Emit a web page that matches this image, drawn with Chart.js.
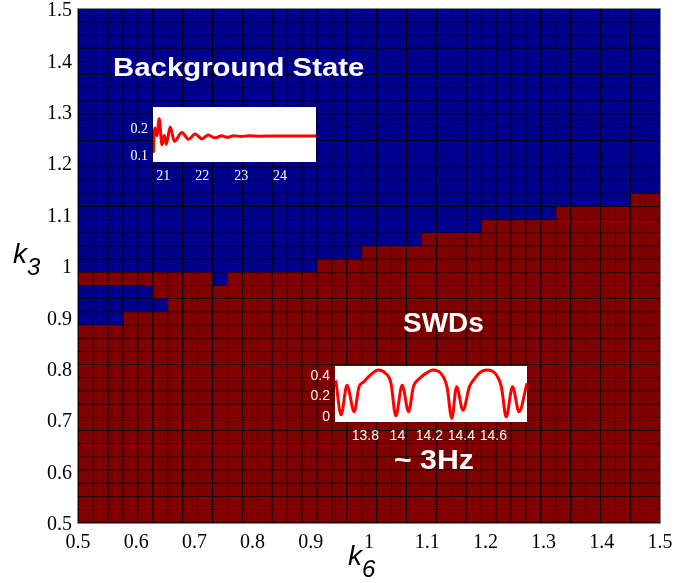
<!DOCTYPE html>
<html>
<head>
<meta charset="utf-8">
<script src="https://cdn.jsdelivr.net/npm/chart.js@4.4.1/dist/chart.umd.min.js"></script>
<style>
  html, body { margin: 0; padding: 0; background: #ffffff; }
  #wrap { position: relative; width: 675px; height: 583px; overflow: hidden; }
  canvas { position: absolute; }
  .ann { position: absolute; color: #ffffff; font-family: 'Liberation Sans', Arial, sans-serif; font-weight: bold; line-height: 1; white-space: nowrap; transform-origin: 0 0; }
  .ttl { position: absolute; color: #000000; font-family: 'Liberation Sans', Arial, sans-serif; font-style: italic; line-height: 1; white-space: nowrap; }
  .ttl span { position: relative; }
</style>
</head>
<body>
<div id="wrap">
  <canvas id="main" width="675" height="583" style="left:0;top:0;width:675px;height:583px"></canvas>
  <canvas id="inset1" width="230" height="95" style="left:100px;top:95px;width:230px;height:95px"></canvas>
  <canvas id="inset2" width="255" height="95" style="left:285px;top:355px;width:255px;height:95px"></canvas>
  <div class="ann" style="left:113px;top:54px;font-size:26px;transform:scaleX(1.13)">Background State</div>
  <div class="ann" style="left:403px;top:309px;font-size:28px">SWDs</div>
  <div class="ann" style="left:394px;top:446px;font-size:28px;transform:scaleX(1.08)">~ 3Hz</div>
  <div class="ttl" style="left:13px;top:240px;font-size:28px">k<span style="font-size:24px;top:12px">3</span></div>
  <div class="ttl" style="left:348px;top:542px;font-size:28px">k<span style="font-size:24px;top:12px">6</span></div>
</div>
<script>
// ---------------- data ----------------
// parameter grid (40 grid points -> 39 x 39 pcolor cells)
const k6Grid = Array.from({ length: 40 }, (_, i) => 0.5 + i / 39);
const k3Grid = Array.from({ length: 40 }, (_, i) => 0.5 + i / 39);
// number of SWD (red) cells counted from the bottom in each k6 column
const swdRowsPerColumn = [19, 19, 19, 19, 19, 19, 19, 19, 19, 18, 19, 19, 19, 19, 19, 19,
  20, 20, 20, 21, 21, 21, 21, 22, 22, 22, 22, 23, 23, 23, 23, 23, 24, 24, 24, 24, 24, 25, 25];
// background-state pocket inside the SWD region: row index and number of columns from the left
const pocketRows = [15, 16, 17];
const pocketCols = [3, 6, 5];
// axis ticks
const mainTicks = [0.5, 0.6, 0.7, 0.8, 0.9, 1.0, 1.1, 1.2, 1.3, 1.4, 1.5];
const mainTickLabels = ['0.5', '0.6', '0.7', '0.8', '0.9', '1', '1.1', '1.2', '1.3', '1.4', '1.5'];

// inset 1: background state time course
const bgTime = [20.75, 20.77, 20.79, 20.84, 20.90, 20.97, 21.03, 21.08, 21.18, 21.29, 21.48, 21.65,
  21.82, 21.99, 22.16, 22.33, 22.50, 22.65, 22.80, 23.00, 23.20, 23.50, 24.00, 24.50, 24.92];
const bgValue = [0.114, 0.19, 0.207, 0.178, 0.241, 0.144, 0.18, 0.146, 0.21, 0.157, 0.19, 0.165,
  0.184, 0.167, 0.181, 0.17, 0.178, 0.172, 0.178, 0.175, 0.178, 0.176, 0.177, 0.177, 0.177];
const bgXTicks = [21, 22, 23, 24];
const bgYTicks = [0.1, 0.2];

// inset 2: SWD time course
const swdTime = [13.615, 13.648, 13.685, 13.73, 13.76, 13.79, 13.83, 13.88, 13.925, 13.96, 13.99,
  14.03, 14.07, 14.10, 14.14, 14.18, 14.22, 14.27, 14.31, 14.34, 14.37, 14.41, 14.45, 14.49,
  14.52, 14.56, 14.62, 14.65, 14.68, 14.72, 14.76, 14.81];
const swdValue = [0.36, 0.02, 0.31, 0.05, 0.295, 0.344, 0.41, 0.46, 0.43, 0.33, 0.01,
  0.31, 0.05, 0.295, 0.38, 0.43, 0.46, 0.43, 0.295, -0.015, 0.295, 0.066, 0.295, 0.39,
  0.44, 0.46, 0.41, 0.295, 0.0, 0.295, 0.05, 0.33];
const swdXTicks = [13.8, 14.0, 14.2, 14.4, 14.6];
const swdXTickLabels = ['13.8', '14', '14.2', '14.4', '14.6'];
const swdYTicks = [0, 0.2, 0.4];
const swdYTickLabels = ['0', '0.2', '0.4'];

// ---------------- main heat map ----------------
const BLUE = 'rgb(0,0,143)';
const RED = 'rgb(128,0,0)';
const nCols = k6Grid.length - 1;
const nRows = k3Grid.length - 1;

function isSWD(col, row) {
  if (row >= swdRowsPerColumn[col]) return false;
  const p = pocketRows.indexOf(row);
  if (p >= 0 && col < pocketCols[p]) return false;
  return true;
}

const colLabels = [];
for (let i = 0; i < nCols; i++) colLabels.push(((k6Grid[i] + k6Grid[i + 1]) / 2).toFixed(4));

const datasets = [];
for (let j = 0; j < nRows; j++) {
  const data = [];
  for (let i = 0; i < nCols; i++) data.push([k3Grid[j], k3Grid[j + 1]]);
  datasets.push({
    data: data,
    xAxisID: 'xc',
    yAxisID: 'y',
    backgroundColor: (ctx) => isSWD(ctx.dataIndex, j) ? RED : BLUE,
    borderColor: '#000000',
    borderWidth: { top: 0, right: 0, bottom: 1, left: 1 },
    borderSkipped: false,
    barPercentage: 1,
    categoryPercentage: 1
  });
}

const framePlugin = {
  id: 'frame',
  beforeDatasetsDraw(chart) {
    const a = chart.chartArea;
    const c = chart.ctx;
    c.save();
    c.fillStyle = '#000000';
    c.fillRect(a.left, a.top, a.right - a.left, a.bottom - a.top);
    c.restore();
  },
  afterDatasetsDraw(chart) {
    const a = chart.chartArea;
    const c = chart.ctx;
    c.save();
    c.strokeStyle = '#8a8a8a';
    c.lineWidth = 1;
    c.strokeRect(a.left - 0.5, a.top - 0.5, a.right - a.left + 1, a.bottom - a.top + 1);
    c.restore();
  }
};

const tickFont = { family: "'Liberation Serif', 'Times New Roman', serif", size: 20 };

new Chart(document.getElementById('main'), {
  type: 'bar',
  data: { labels: colLabels, datasets: datasets },
  options: {
    responsive: false,
    animation: false,
    devicePixelRatio: 1,
    layout: { padding: { top: 9, right: 15, left: 0, bottom: 0 } },
    plugins: { legend: { display: false }, tooltip: { enabled: false } },
    scales: {
      xc: { type: 'category', display: false, offset: true, stacked: true, grid: { display: false } },
      x: {
        type: 'linear', position: 'bottom', min: 0.5, max: 1.5, offset: false,
        afterBuildTicks: (s) => { s.ticks = mainTicks.map(v => ({ value: v })); },
        ticks: { callback: (v, i) => mainTickLabels[i], font: tickFont, color: '#000', padding: 8, maxRotation: 0, autoSkip: false },
        grid: { display: false, drawTicks: false, offset: false },
        border: { display: false },
        afterFit: (s) => { s.height = 60; s.paddingLeft = 0; s.paddingRight = 0; }
      },
      y: {
        type: 'linear', position: 'left', min: 0.5, max: 1.5, stacked: false, beginAtZero: false,
        afterBuildTicks: (s) => { s.ticks = mainTicks.map(v => ({ value: v })); },
        ticks: { callback: (v, i) => mainTickLabels[i], font: tickFont, color: '#000', padding: 6, labelOffset: 2, autoSkip: false },
        grid: { display: false, drawTicks: false },
        border: { display: false },
        afterFit: (s) => { s.width = 78; s.paddingTop = 0; s.paddingBottom = 0; }
      }
    }
  },
  plugins: [framePlugin]
});

// ---------------- insets ----------------
const whiteArea = {
  id: 'whiteArea',
  beforeDatasetsDraw(chart) {
    const a = chart.chartArea;
    chart.ctx.save();
    chart.ctx.fillStyle = '#ffffff';
    chart.ctx.fillRect(a.left, a.top, a.right - a.left, a.bottom - a.top);
    chart.ctx.restore();
  }
};

function makeInset(id, xs, ys, opt) {
  return new Chart(document.getElementById(id), {
    type: 'line',
    data: {
      datasets: [{
        data: xs.map((x, i) => ({ x: x, y: ys[i] })),
        borderColor: '#ff0000',
        borderWidth: 3,
        pointRadius: 0,
        fill: false,
        cubicInterpolationMode: 'monotone'
      }]
    },
    options: {
      responsive: false,
      animation: false,
      devicePixelRatio: 1,
      layout: { padding: opt.padding },
      plugins: { legend: { display: false }, tooltip: { enabled: false } },
      scales: {
        x: {
          type: 'linear', min: opt.xmin, max: opt.xmax, offset: false,
          afterBuildTicks: (s) => { s.ticks = opt.xticks.map(v => ({ value: v })); },
          ticks: { callback: (v, i) => opt.xlabels[i], font: opt.font, color: '#ffffff', padding: opt.xpad, maxRotation: 0, autoSkip: false },
          grid: { display: false, drawTicks: false },
          border: { display: false },
          afterFit: (s) => { s.height = opt.xh; s.paddingLeft = 0; s.paddingRight = 0; }
        },
        y: {
          type: 'linear', min: opt.ymin, max: opt.ymax,
          afterBuildTicks: (s) => { s.ticks = opt.yticks.map(v => ({ value: v })); },
          ticks: { callback: (v, i) => opt.ylabels[i], font: opt.font, color: '#ffffff', padding: opt.ypad, autoSkip: false },
          grid: { display: false, drawTicks: false },
          border: { display: false },
          afterFit: (s) => { s.width = opt.yw; s.paddingTop = 0; s.paddingBottom = 0; }
        }
      }
    },
    plugins: [whiteArea]
  });
}

makeInset('inset1', bgTime, bgValue, {
  padding: { top: 12, right: 14, left: 0, bottom: 0 },
  xmin: 20.74, xmax: 24.92, ymin: 0.08, ymax: 0.285,
  xticks: bgXTicks, xlabels: bgXTicks.map(String),
  yticks: bgYTicks, ylabels: bgYTicks.map(String),
  font: { family: "'Liberation Serif', 'Times New Roman', serif", size: 14 },
  xpad: 6, ypad: 5, xh: 28, yw: 53
});

makeInset('inset2', swdTime, swdValue, {
  padding: { top: 11, right: 13, left: 0, bottom: 0 },
  xmin: 13.61, xmax: 14.81, ymin: -0.05, ymax: 0.5,
  xticks: swdXTicks, xlabels: swdXTickLabels,
  yticks: swdYTicks, ylabels: swdYTickLabels,
  font: { family: "'Liberation Sans', Arial, sans-serif", size: 14 },
  xpad: 6, ypad: 5, xh: 28, yw: 50
});
</script>
</body>
</html>
